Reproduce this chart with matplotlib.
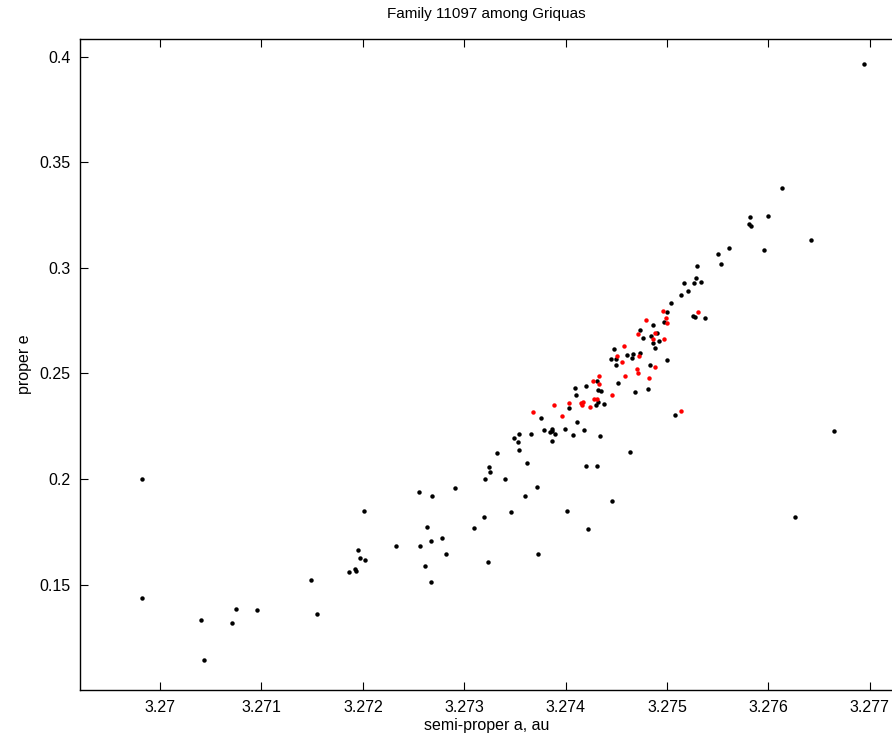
import matplotlib
matplotlib.use("Agg")
import matplotlib.pyplot as plt

plt.rcParams['font.family'] = ['Liberation Sans', 'DejaVu Sans']

# family members (black) and the subset highlighted in red
black_a = [3.269825, 3.269825, 3.270404, 3.270437, 3.270710, 3.270750, 3.270954,
           3.271486, 3.271548, 3.271864, 3.271920, 3.271933, 3.271956, 3.271969,
           3.272025, 3.272015, 3.272331, 3.272551, 3.272567, 3.272610, 3.272633,
           3.272676, 3.272676, 3.272685, 3.272784, 3.272818, 3.272909, 3.273094,
           3.273192, 3.273202, 3.273235, 3.273245, 3.273251, 3.273327, 3.273399,
           3.273465, 3.273491, 3.273527, 3.273538, 3.273538, 3.273600, 3.273620,
           3.273656, 3.273715, 3.273725, 3.273758, 3.273784, 3.273846, 3.273863,
           3.273869, 3.273895, 3.273866, 3.273994, 3.274034, 3.274017, 3.274093,
           3.274103, 3.274075, 3.274109, 3.274184, 3.274204, 3.274314, 3.274323,
           3.274352, 3.274303, 3.274320, 3.274379, 3.274339, 3.274451, 3.274497,
           3.274497, 3.274474, 3.274517, 3.274602, 3.274661, 3.274657, 3.274737,
           3.274832, 3.274809, 3.274687, 3.274999, 3.274734, 3.274767, 3.274845,
           3.274905, 3.274862, 3.274925, 3.274878, 3.274859, 3.274974, 3.274999,
           3.275036, 3.275253, 3.275280, 3.275372, 3.275079, 3.275135, 3.275210,
           3.275168, 3.275263, 3.275335, 3.275283, 3.275293, 3.275503, 3.275533,
           3.275615, 3.275809, 3.275828, 3.275815, 3.275957, 3.275996, 3.276131,
           3.276420, 3.276946, 3.276644, 3.276259, 3.274221, 3.274458, 3.274635,
           3.274201, 3.274310]
black_e = [0.2002, 0.1436, 0.1334, 0.1145, 0.1317, 0.1385, 0.1379,
           0.1522, 0.1363, 0.1559, 0.1576, 0.1566, 0.1663, 0.1628,
           0.1616, 0.1849, 0.1685, 0.1938, 0.1683, 0.1589, 0.1775,
           0.1705, 0.1513, 0.1921, 0.1722, 0.1644, 0.1958, 0.1770,
           0.1819, 0.2000, 0.1606, 0.2057, 0.2032, 0.2125, 0.2000,
           0.1844, 0.2195, 0.2176, 0.2215, 0.2138, 0.1919, 0.2075,
           0.2212, 0.1961, 0.1647, 0.2289, 0.2231, 0.2223, 0.2229,
           0.2236, 0.2215, 0.2182, 0.2236, 0.2338, 0.1848, 0.2433,
           0.2397, 0.2210, 0.2272, 0.2234, 0.2442, 0.2465, 0.2422,
           0.2419, 0.2350, 0.2364, 0.2354, 0.2204, 0.2569, 0.2569,
           0.2542, 0.2616, 0.2455, 0.2586, 0.2591, 0.2572, 0.2598,
           0.2542, 0.2427, 0.2414, 0.2563, 0.2706, 0.2670, 0.2678,
           0.2690, 0.2643, 0.2656, 0.2621, 0.2731, 0.2742, 0.2790,
           0.2835, 0.2772, 0.2766, 0.2763, 0.2303, 0.2873, 0.2891,
           0.2930, 0.2930, 0.2932, 0.2954, 0.3009, 0.3067, 0.3020,
           0.3096, 0.3208, 0.3200, 0.3240, 0.3083, 0.3244, 0.3378,
           0.3134, 0.3967, 0.2229, 0.1822, 0.1763, 0.1896, 0.2128,
           0.2062, 0.2062]

red_a = [3.273682, 3.273889, 3.273964, 3.274036, 3.274152, 3.274172, 3.274162,
         3.274238, 3.274277, 3.274307, 3.274274, 3.274330, 3.274326, 3.274458,
         3.274586, 3.274556, 3.274504, 3.274576, 3.274701, 3.274716, 3.274825,
         3.274878, 3.274721, 3.274711, 3.274796, 3.274882, 3.274865, 3.274974,
         3.274957, 3.274986, 3.274999, 3.275306, 3.275138]
red_e = [0.2318, 0.2349, 0.2297, 0.2360, 0.2360, 0.2365, 0.2350,
         0.2343, 0.2379, 0.2379, 0.2465, 0.2490, 0.2452, 0.2397,
         0.2487, 0.2554, 0.2581, 0.2632, 0.2520, 0.2501, 0.2480,
         0.2529, 0.2584, 0.2686, 0.2753, 0.2692, 0.2663, 0.2663,
         0.2796, 0.2763, 0.2741, 0.2793, 0.2324]

x_ticks = [3.270, 3.271, 3.272, 3.273, 3.274, 3.275, 3.276, 3.277]
x_labels = ['3.27', '3.271', '3.272', '3.273', '3.274', '3.275', '3.276', '3.277']
y_ticks = [0.15, 0.2, 0.25, 0.3, 0.35, 0.4]
y_labels = ['0.15', '0.2', '0.25', '0.3', '0.35', '0.4']

fig = plt.figure(figsize=(8.92, 7.38), dpi=100)
ax = fig.add_axes([0.0897, 0.065, 0.9114, 0.8817])

ax.plot(black_a, black_e, 'o', color='black', markersize=3.2, markeredgewidth=0)
ax.plot(red_a, red_e, 'o', color='red', markersize=3.2, markeredgewidth=0)

ax.set_xlim(3.26921, 3.277229)
ax.set_ylim(0.1001, 0.4082)
ax.set_xticks(x_ticks)
ax.set_xticklabels(x_labels)
ax.set_yticks(y_ticks)
ax.set_yticklabels(y_labels)
ax.tick_params(direction='in', length=6, width=0.8, labelsize=11.5, pad=7,
               top=True, right=False)
for s in ax.spines.values():
    s.set_linewidth(1.0)

ax.set_title('Family 11097 among Griquas', fontsize=11, pad=15.5)
ax.set_xlabel('semi-proper a, au', fontsize=11.5, labelpad=2)
ax.set_ylabel('proper e', fontsize=11.5, labelpad=5)

fig.savefig('out.png', dpi=100)
